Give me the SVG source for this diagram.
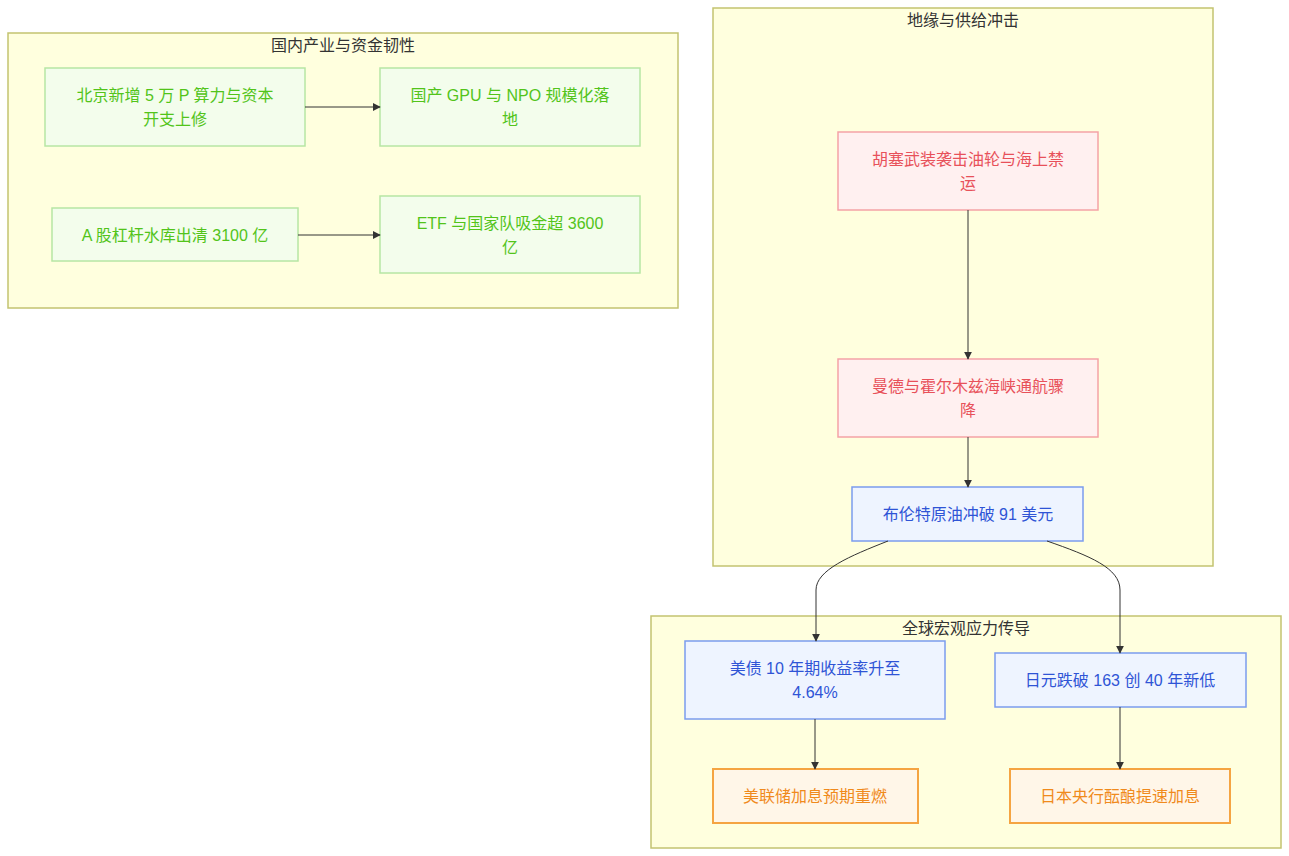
<svg xmlns="http://www.w3.org/2000/svg" width="1289" height="856" viewBox="0 0 1289 856">
<defs>
<marker id="arr" viewBox="0 0 10 10" refX="9" refY="5" markerWidth="8" markerHeight="8" markerUnits="userSpaceOnUse" orient="auto">
<path d="M0,0 L10,5 L0,10 z" fill="#333"/>
</marker>
<style>
text{font-family:"Liberation Sans","Noto Sans CJK SC",sans-serif;font-size:16px;text-anchor:middle;dominant-baseline:central}
.cl{fill:#ffffde;stroke:#c3c370;stroke-width:1.5}
.ct{fill:#333}
.g rect{fill:#f3fdec;stroke:#b7e6a4;stroke-width:1.5}
.g text{fill:#52c41a}
.r rect{fill:#fff0f0;stroke:#f5a3a6;stroke-width:1.5}
.r text{fill:#e8515a}
.b rect{fill:#eef4ff;stroke:#7b9cee;stroke-width:1.5}
.b text{fill:#2f54d6}
.o rect{fill:#fff6e8;stroke:#f5a442;stroke-width:2}
.o text{fill:#f08a1c}
.e{fill:none;stroke:#333;stroke-width:1;marker-end:url(#arr)}
</style>
</defs>
<rect width="1289" height="856" fill="#fff"/>
<g id="cluster-domestic"><rect class="cl" x="8" y="33" width="670" height="275"/><text class="ct" x="343" y="45">国内产业与资金韧性</text></g>
<g id="cluster-geo"><rect class="cl" x="713" y="8" width="500" height="558"/><text class="ct" x="963" y="20">地缘与供给冲击</text></g>
<g id="cluster-macro"><rect class="cl" x="651" y="616" width="630" height="232"/><text class="ct" x="966" y="628">全球宏观应力传导</text></g>

<g id="n1" class="g"><rect x="45" y="68" width="260" height="78"/><text x="175" y="95">北京新增 5 万 P 算力与资本</text><text x="175" y="119">开支上修</text></g>
<g id="n2" class="g"><rect x="380" y="68" width="260" height="78"/><text x="510" y="95">国产 GPU 与 NPO 规模化落</text><text x="510" y="119">地</text></g>
<g id="n3" class="g"><rect x="52" y="208" width="246" height="53"/><text x="175" y="235">A 股杠杆水库出清 3100 亿</text></g>
<g id="n4" class="g"><rect x="380" y="196" width="260" height="77"/><text x="510" y="223">ETF 与国家队吸金超 3600</text><text x="510" y="247">亿</text></g>

<g id="r1" class="r"><rect x="838" y="132" width="260" height="78"/><text x="968" y="159">胡塞武装袭击油轮与海上禁</text><text x="968" y="183">运</text></g>
<g id="r2" class="r"><rect x="838" y="359" width="260" height="78"/><text x="968" y="386">曼德与霍尔木兹海峡通航骤</text><text x="968" y="410">降</text></g>
<g id="b1" class="b"><rect x="852" y="487" width="231" height="54"/><text x="968" y="514">布伦特原油冲破 91 美元</text></g>

<g id="b2" class="b"><rect x="685" y="641" width="260" height="78"/><text x="815" y="668">美债 10 年期收益率升至</text><text x="815" y="692">4.64%</text></g>
<g id="b3" class="b"><rect x="995" y="653" width="251" height="54"/><text x="1120" y="680">日元跌破 163 创 40 年新低</text></g>
<g id="o1" class="o"><rect x="713" y="769" width="205" height="54"/><text x="815" y="796">美联储加息预期重燃</text></g>
<g id="o2" class="o"><rect x="1010" y="769" width="220" height="54"/><text x="1120" y="796">日本央行酝酿提速加息</text></g>

<g id="edges">
<path class="e" d="M305,107 L380,107"/>
<path class="e" d="M298,235 L380,235"/>
<path class="e" d="M968,210 L968,359"/>
<path class="e" d="M968,437 L968,487"/>
<path class="e" d="M888,541 C850,556 816,570 816,590 L816,641"/>
<path class="e" d="M1047,541 C1090,556 1120,568 1120,590 L1120,653"/>
<path class="e" d="M815,719 L815,769"/>
<path class="e" d="M1120,707 L1120,769"/>
</g>
</svg>
